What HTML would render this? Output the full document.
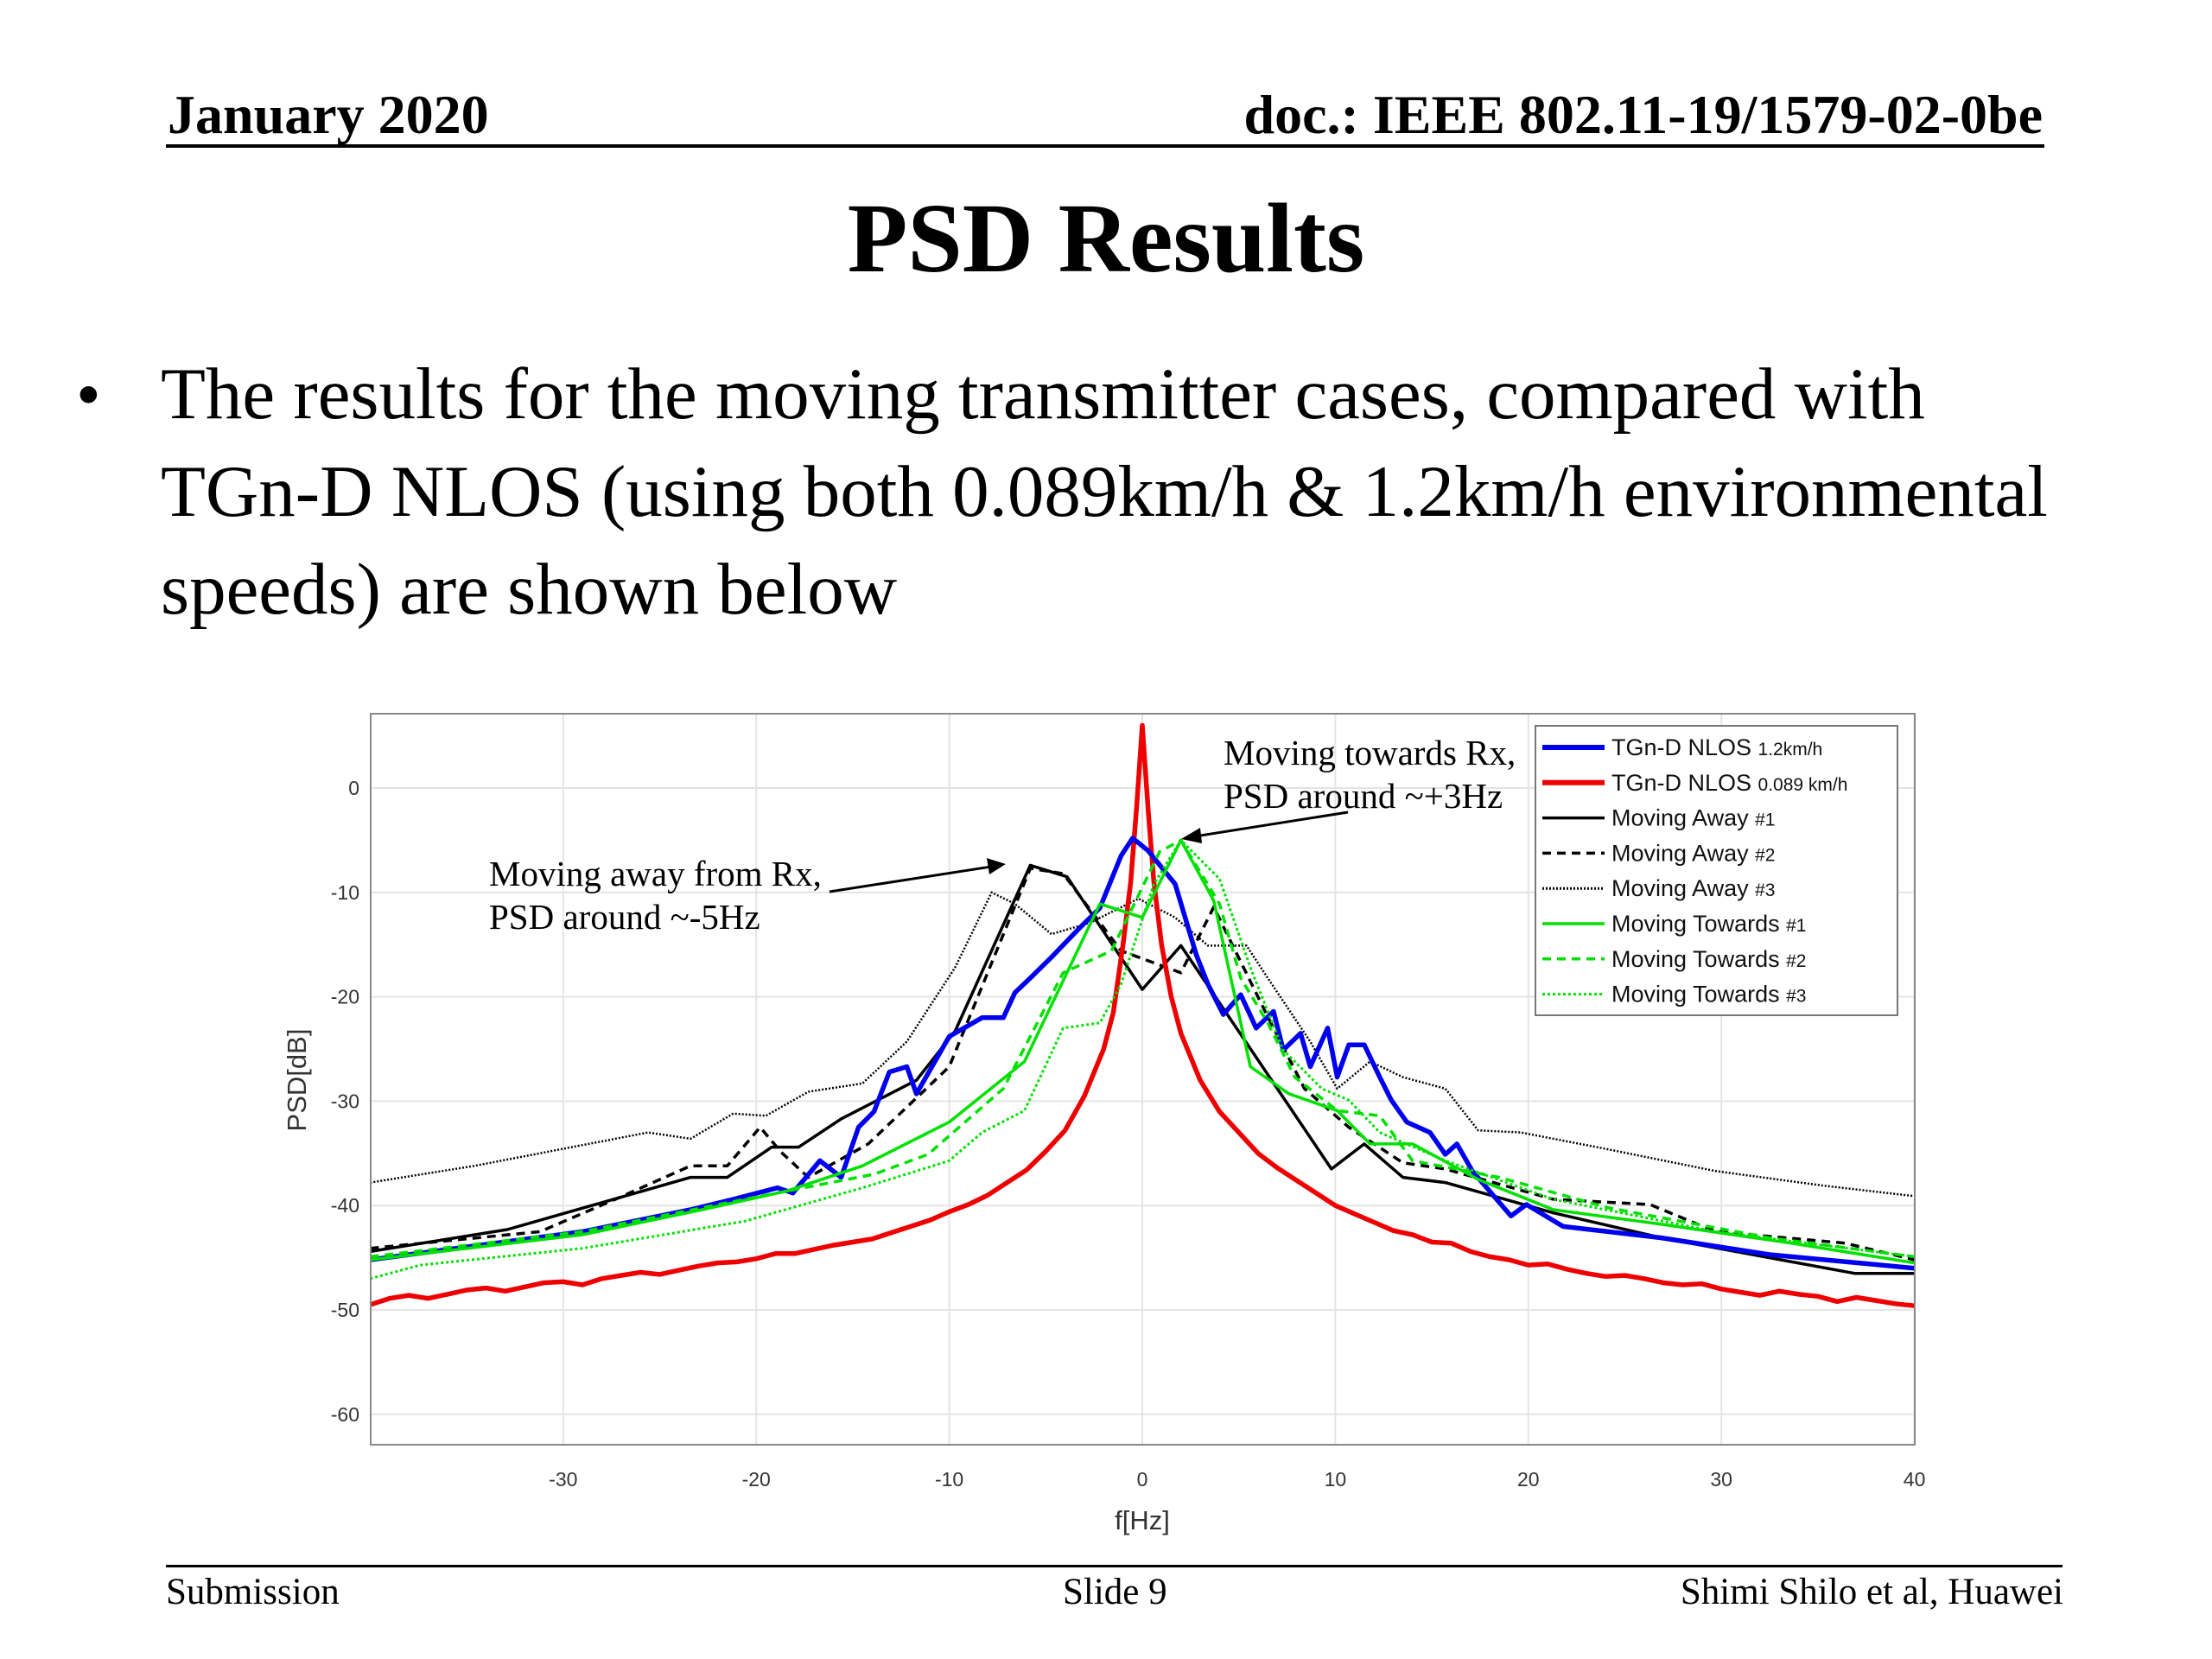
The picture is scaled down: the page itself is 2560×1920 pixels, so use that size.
<!DOCTYPE html>
<html><head><meta charset="utf-8">
<style>
html,body{margin:0;padding:0;background:#fff;}
body{width:2560px;height:1920px;position:relative;overflow:hidden;font-family:"Liberation Serif",serif;}
.abs{position:absolute;white-space:nowrap;}
</style></head>
<body>
<div class="abs" style="left:194px;top:96px;font-size:64px;font-weight:bold;">January 2020</div>
<div class="abs" style="right:196px;top:96px;font-size:64px;font-weight:bold;">doc.: IEEE 802.11-19/1579-02-0be</div>
<div class="abs" style="left:192px;top:167px;width:2174px;height:4px;background:#000;"></div>
<div class="abs" style="left:0;width:2560px;text-align:center;top:210px;font-size:114px;font-weight:bold;">PSD Results</div>
<div class="abs" style="left:88px;top:410px;font-size:82px;">•</div>
<div class="abs" style="left:186px;top:400px;font-size:85px;line-height:113px;">The results for the moving transmitter cases, compared with<br>TGn-D NLOS (using both 0.089km/h &amp; 1.2km/h environmental<br>speeds) are shown below</div>

<svg class="abs" style="left:0;top:0" width="2560" height="1920" xmlns="http://www.w3.org/2000/svg">
<g id="grid"></g>
<g id="series"></g>
<rect x="429" y="826" width="1787" height="846" fill="none" stroke="#888" stroke-width="2"/>
<g id="ticks" font-family="Liberation Sans, sans-serif" font-size="23" fill="#333"></g>
<text x="1322" y="1770" text-anchor="middle" font-family="Liberation Sans, sans-serif" font-size="31" fill="#333">f[Hz]</text>
<text transform="translate(354,1250) rotate(-90)" text-anchor="middle" font-family="Liberation Sans, sans-serif" font-size="31" fill="#333">PSD[dB]</text>
<g id="legend"></g>
<g font-family="Liberation Serif, serif" font-size="41">
<text x="1416" y="885">Moving towards Rx,</text>
<text x="1416" y="935">PSD around ~+3Hz</text>
<line x1="1560" y1="940" x2="1383" y2="968" stroke="#000" stroke-width="3"/>
<polygon points="1367,971 1389,958 1391,976" fill="#000"/>
</g>
<g font-family="Liberation Serif, serif" font-size="41">
<text x="566" y="1025">Moving away from Rx,</text>
<text x="566" y="1075">PSD around ~-5Hz</text>
<line x1="960" y1="1032" x2="1147" y2="1003" stroke="#000" stroke-width="3"/>
<polygon points="1164,1000 1142,993 1145,1012" fill="#000"/>
</g>
</svg>

<div class="abs" style="left:192px;top:1811px;width:2195px;height:3px;background:#000;"></div>
<div class="abs" style="left:192px;top:1818px;font-size:43px;">Submission</div>
<div class="abs" style="left:1230px;top:1818px;font-size:43px;">Slide 9</div>
<div class="abs" style="right:172px;top:1818px;font-size:43px;">Shimi Shilo et al, Huawei</div>

<script>
const xTicks=[-30,-20,-10,0,10,20,30,40];
const yTicks=[0,-10,-20,-30,-40,-50,-60];
const redF=[-40,-39,-38,-37,-36,-35,-34,-33,-32,-31,-30,-29,-28,-27,-26,-25,-24,-23,-22,-21,-20,-19,-18,-17,-16,-15,-14,-13,-12,-11,-10,-9,-8,-7,-6,-5,-4,-3,-2,-1.5,-1,-0.6,-0.3,0,0.3,0.6,1,1.5,2,3,4,5,6,7,8,9,10,11,12,13,14,15,16,17,18,19,20,21,22,23,24,25,26,27,28,29,30,31,32,33,34,35,36,37,38,39,40];
const redV=[-49.5,-48.9,-48.6,-48.9,-48.5,-48.1,-47.9,-48.2,-47.8,-47.4,-47.3,-47.6,-47,-46.7,-46.4,-46.6,-46.2,-45.8,-45.5,-45.4,-45.1,-44.6,-44.6,-44.2,-43.8,-43.5,-43.2,-42.6,-42,-41.4,-40.6,-39.9,-39,-37.8,-36.6,-34.8,-32.8,-29.5,-25,-21.5,-15,-9,-2,6,-2,-9,-15,-20,-23.5,-28,-31,-33,-35,-36.4,-37.6,-38.8,-40,-40.8,-41.6,-42.4,-42.8,-43.5,-43.6,-44.4,-44.9,-45.2,-45.7,-45.6,-46.1,-46.5,-46.8,-46.7,-47,-47.4,-47.6,-47.5,-48,-48.3,-48.6,-48.2,-48.5,-48.7,-49.2,-48.8,-49.1,-49.4,-49.6];
const blueF=[-40,-29,-23.4,-21.2,-18.9,-18.1,-16.7,-15.6,-14.7,-13.9,-13.1,-12.2,-11.7,-10,-8.3,-7.2,-6.6,-5.8,-4.7,-3.3,-2.2,-1.1,-0.5,0.3,1.7,2.8,3.4,4.2,5.1,5.9,6.8,7.3,8.2,8.7,9.6,10.1,10.7,11.5,12.3,12.9,13.7,14.9,15.7,16.3,17.1,19.1,19.9,21.8,26.9,32.5,40];
const blueV=[-45.2,-42.5,-40.4,-39.4,-38.3,-38.8,-35.7,-37.3,-32.5,-31,-27.2,-26.7,-29.3,-23.8,-22,-22,-19.6,-18.2,-16.2,-13.5,-11.5,-6.5,-4.8,-6,-9.2,-16,-18.8,-21.7,-19.8,-23,-21.4,-25.1,-23.5,-26.7,-23,-27.7,-24.6,-24.6,-27.7,-29.9,-32,-33,-35.1,-34.1,-36.7,-41,-39.9,-42,-43.1,-44.7,-46];
const ma1F=[-40,-32.9,-23.4,-21.5,-19.2,-17.8,-15.6,-11.7,-9.7,-5.8,-3.9,0,2,9.8,11.5,13.5,15.7,21.3,26.9,36.9,40];
const ma1V=[-44.4,-42.3,-37.3,-37.3,-34.4,-34.4,-31.7,-28,-23.3,-7.4,-8.5,-19.3,-15.1,-36.5,-34.1,-37.3,-37.8,-40.7,-43.1,-46.5,-46.5];
const ma2F=[-40,-31.2,-27.3,-23.4,-21.5,-19.8,-18.7,-17.3,-14.2,-10,-5.8,-4.1,-1.1,2,3.7,6.5,8.4,10.7,13.5,15.7,21.3,26.3,29.7,36.4,40];
const ma2V=[-44.1,-42.5,-39.4,-36.2,-36.2,-32.5,-34.9,-37.3,-34.1,-26.7,-7.7,-8.2,-15.6,-17.7,-11.4,-21.9,-28.8,-32.5,-35.9,-36.5,-39.4,-39.9,-42.5,-43.6,-45.2];
const ma3F=[-40,-34.6,-25.6,-23.4,-21.2,-19.5,-17.3,-14.5,-12.2,-9.7,-7.8,-6.6,-4.7,-2.7,-0.2,1.7,3.4,5.4,6.5,8.7,10.1,11.8,13.5,15.7,17.4,19.6,24.1,29.7,35.3,40];
const ma3V=[-37.8,-36.2,-33,-33.6,-31.2,-31.4,-29.1,-28.3,-24.3,-17.2,-10,-11.1,-14,-12.9,-10.6,-12.4,-15.1,-15.1,-18.2,-24.3,-28.8,-26.2,-27.7,-28.8,-32.8,-33,-34.6,-36.7,-38.1,-39.1];
const mt1F=[-40,-29,-22.8,-18.4,-14.5,-10,-6.1,-2.2,0,2,3.7,5.6,7.6,10.1,11.8,14,17.4,21.3,26.9,33.6,40];
const mt1V=[-45.2,-42.8,-40.4,-38.6,-36.2,-32,-26.2,-11.1,-12.4,-5,-10.8,-26.7,-29.3,-30.9,-34.1,-34.1,-37.5,-40.4,-41.8,-43.6,-45.5];
const mt2F=[-40,-29,-20.6,-13.9,-11.1,-7.2,-4.1,-1.6,0.9,2,4,5.1,6.5,7.9,10.1,12.3,14,18.5,24.1,32.5,40];
const mt2V=[-44.9,-42.5,-39.4,-37,-35.1,-28.8,-17.7,-15.6,-6.1,-5,-11.1,-18.2,-22.5,-27.7,-30.9,-31.4,-35.7,-37.3,-40.2,-43.1,-44.9];
const mt3F=[-40,-37.4,-29,-20.6,-14.5,-11.7,-10,-8.3,-6.1,-4.1,-2.2,-1.1,0.6,2,4,5.6,7.3,9.3,10.7,12.3,15.7,21.3,29.7,40];
const mt3V=[-47,-45.7,-44.1,-41.5,-38.3,-36.7,-35.7,-33,-30.9,-23,-22.5,-18.8,-9.2,-5,-8.7,-17.2,-25.1,-28.8,-29.9,-33,-35.7,-39.4,-42.5,-44.9];
const legendLabels=[["TGn-D NLOS ","1.2km/h"],["TGn-D NLOS ","0.089 km/h"],["Moving Away ","#1"],["Moving Away ","#2"],["Moving Away ","#3"],["Moving Towards ","#1"],["Moving Towards ","#2"],["Moving Towards ","#3"]];

const NS="http://www.w3.org/2000/svg";
function X(f){return 1322+f*22.34;}
function Y(v){return 912-v*12.08;}
const grid=document.getElementById('grid'),ticks=document.getElementById('ticks');
xTicks.forEach(t=>{
  const l=document.createElementNS(NS,'line');
  
  
  l.setAttribute('x1',X(t));l.setAttribute('x2',X(t));l.setAttribute('y1',826);l.setAttribute('y2',1672);
  l.setAttribute('stroke','#e4e4e4');l.setAttribute('stroke-width','2');grid.appendChild(l);
  const tx=document.createElementNS(NS,'text');
  
  
  tx.setAttribute('x',X(t));tx.setAttribute('y',1720);tx.setAttribute('text-anchor','middle');tx.textContent=t;ticks.appendChild(tx);
});
yTicks.forEach(t=>{
  const l=document.createElementNS(NS,'line');
  
  
  l.setAttribute('x1',429);l.setAttribute('x2',2216);l.setAttribute('y1',Y(t));l.setAttribute('y2',Y(t));
  l.setAttribute('stroke','#e4e4e4');l.setAttribute('stroke-width','2');grid.appendChild(l);
  const tx=document.createElementNS(NS,'text');
  
  
  tx.setAttribute('x',416);tx.setAttribute('y',Y(t)+8);tx.setAttribute('text-anchor','end');tx.textContent=t;ticks.appendChild(tx);
});
const styles=[
 {f:ma3F,v:ma3V,c:'#000',w:2.5,d:'2,2',n:'series-moving-away-3'},
 {f:ma2F,v:ma2V,c:'#000',w:3.5,d:'10,7',n:'series-moving-away-2'},
 {f:ma1F,v:ma1V,c:'#000',w:3.5,d:'',n:'series-moving-away-1'},
 {f:redF,v:redV,c:'#ee0000',w:5.5,d:'',n:'series-tgn-0089'},
 {f:blueF,v:blueV,c:'#0000ee',w:5.5,d:'',n:'series-tgn-12'},
 {f:mt3F,v:mt3V,c:'#00e000',w:3,d:'3,3',n:'series-moving-towards-3'},
 {f:mt2F,v:mt2V,c:'#00e000',w:3.5,d:'10,7',n:'series-moving-towards-2'},
 {f:mt1F,v:mt1V,c:'#00e000',w:3.5,d:'',n:'series-moving-towards-1'}
];
const sg=document.getElementById('series');
styles.forEach(s=>{
  const p=document.createElementNS(NS,'polyline');
  
  
  p.setAttribute('points',s.f.map((f,i)=>X(f).toFixed(1)+','+Y(s.v[i]).toFixed(1)).join(' '));
  p.setAttribute('fill','none');p.setAttribute('stroke',s.c);p.setAttribute('stroke-width',s.w);
  p.setAttribute('stroke-linejoin','round');
  if(s.d)p.setAttribute('stroke-dasharray',s.d);
  sg.appendChild(p);
});
const lg=document.getElementById('legend');
const box=document.createElementNS(NS,'rect');


box.setAttribute('x',1777);box.setAttribute('y',840);box.setAttribute('width',419);box.setAttribute('height',335);
box.setAttribute('fill','#fff');box.setAttribute('stroke','#777');box.setAttribute('stroke-width','2');lg.appendChild(box);
const legStyle=[['#0000ee',6,''],['#ee0000',6,''],['#000',3.5,''],['#000',3.5,'10,7'],['#000',3,'2,2'],['#00e000',3.5,''],['#00e000',3.5,'10,7'],['#00e000',3,'3,3']];
legendLabels.forEach((lab,i)=>{
  const y=865+40.8*i;
  const l=document.createElementNS(NS,'line');
  
  
  l.setAttribute('x1',1785);l.setAttribute('x2',1857);l.setAttribute('y1',y);l.setAttribute('y2',y);
  l.setAttribute('stroke',legStyle[i][0]);l.setAttribute('stroke-width',legStyle[i][1]);
  if(legStyle[i][2])l.setAttribute('stroke-dasharray',legStyle[i][2]);
  lg.appendChild(l);
  const t=document.createElementNS(NS,'text');
  
  
  t.setAttribute('x',1865);t.setAttribute('y',y+9);
  t.setAttribute('font-family','Liberation Sans, sans-serif');t.setAttribute('font-size','27');t.setAttribute('fill','#111');
  const a=document.createElementNS(NS,'tspan');a.textContent=lab[0];t.appendChild(a);
  const b=document.createElementNS(NS,'tspan');b.setAttribute('font-size','21');b.textContent=lab[1];t.appendChild(b);
  lg.appendChild(t);
});
</script>
</body></html>
